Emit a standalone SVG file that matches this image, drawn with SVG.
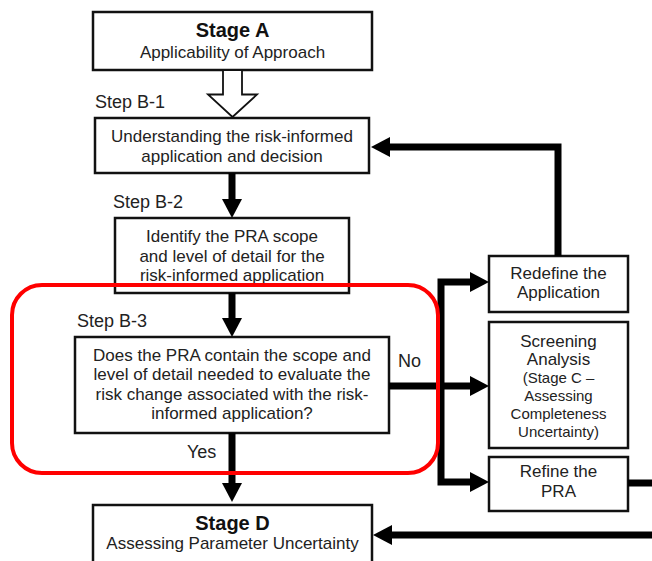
<svg xmlns="http://www.w3.org/2000/svg" width="652" height="561" viewBox="0 0 652 561">
<style>
.box{fill:#fff;stroke:#111;stroke-width:2.5}
.t{font-family:"Liberation Sans",Arial,sans-serif;font-size:17px;fill:#222;text-anchor:middle}
.b{font-weight:bold;font-size:20px;fill:#111}
.s{font-size:15px}
.lab{font-family:"Liberation Sans",Arial,sans-serif;font-size:18px;fill:#222}
.c{fill:none;stroke:#000;stroke-width:7;stroke-linejoin:miter}
</style>
<defs>
<marker id="ah" markerUnits="userSpaceOnUse" markerWidth="20" markerHeight="22" refX="9" refY="10" orient="auto" viewBox="0 0 20 20" overflow="visible">
<path d="M0,0 L19,10 L0,20 z" fill="#000"/>
</marker>
</defs>
<rect width="652" height="561" fill="#fff"/>

<g id="stageA">
<rect class="box" x="93" y="12" width="279" height="58" stroke-width="2"/>
<text class="t b" x="232.5" y="37">Stage A</text>
<text class="t" x="232.5" y="58">Applicability of Approach</text>
</g>

<g id="hollowArrow">
<polygon points="223,70 242,70 242,94.5 257,94.5 232.5,117 208,94.5 223,94.5" fill="#fff" stroke="#111" stroke-width="1.8" stroke-linejoin="miter"/>
</g>

<g id="stepB1">
<text class="lab" x="95" y="108">Step B-1</text>
<rect class="box" x="95" y="118" width="274" height="55" stroke-width="3"/>
<text class="t" x="232" y="142">Understanding the risk-informed</text>
<text class="t" x="232" y="162">application and decision</text>
</g>

<g id="stepB2">
<text class="lab" x="113" y="208">Step B-2</text>
<rect class="box" x="115" y="218" width="234" height="75"/>
<text class="t" x="232" y="242">Identify the PRA scope</text>
<text class="t" x="232" y="262">and level of detail for the</text>
<text class="t" x="232" y="281">risk-informed application</text>
</g>

<g id="stepB3">
<text class="lab" x="77" y="327">Step B-3</text>
<rect class="box" x="75" y="337" width="314" height="96"/>
<text class="t" x="232" y="361">Does the PRA contain the scope and</text>
<text class="t" x="232" y="380">level of detail needed to evaluate the</text>
<text class="t" x="232" y="400">risk change associated with the risk-</text>
<text class="t" x="232" y="419">informed application?</text>
</g>

<g id="redefine">
<rect class="box" x="489" y="256" width="139" height="56"/>
<text class="t" x="558.5" y="279">Redefine the</text>
<text class="t" x="558.5" y="298">Application</text>
</g>

<g id="screening">
<rect class="box" x="489" y="322" width="139" height="126"/>
<text class="t" x="558.5" y="347">Screening</text>
<text class="t" x="558.5" y="365">Analysis</text>
<text class="t s" x="558.5" y="383">(Stage C –</text>
<text class="t s" x="558.5" y="401">Assessing</text>
<text class="t s" x="558.5" y="419">Completeness</text>
<text class="t s" x="558.5" y="437">Uncertainty)</text>
</g>

<g id="refine">
<rect class="box" x="489" y="457" width="139" height="54"/>
<text class="t" x="558.5" y="477">Refine the</text>
<text class="t" x="558.5" y="497">PRA</text>
</g>

<g id="stageD">
<rect class="box" x="93" y="505" width="279" height="80"/>
<text class="t b" x="232.5" y="530">Stage D</text>
<text class="t" x="232.5" y="549">Assessing Parameter Uncertainty</text>
</g>

<g id="connectors">
<path class="c" d="M558,256 V147 H381" marker-end="url(#ah)"/>
<path class="c" d="M232,173 V208" marker-end="url(#ah)"/>
<path class="c" d="M232,293 V327" marker-end="url(#ah)"/>
<path class="c" d="M232,433 V492" marker-end="url(#ah)"/>
<path class="c" d="M389,386 H479" marker-end="url(#ah)"/>
<path class="c" d="M441,386 V282 H479" marker-end="url(#ah)"/>
<path class="c" d="M441,386 V482 H479" marker-end="url(#ah)"/>
<path class="c" d="M628,483 H652"/>
<path class="c" d="M652,535 H383" marker-end="url(#ah)"/>
</g>

<g id="labels">
<text class="lab" x="398" y="367">No</text>
<text class="lab" x="187" y="458">Yes</text>
</g>

<g id="highlight">
<rect x="12" y="285" width="426" height="188" rx="30" ry="30" fill="none" stroke="#ff0000" stroke-width="4"/>
</g>
</svg>
